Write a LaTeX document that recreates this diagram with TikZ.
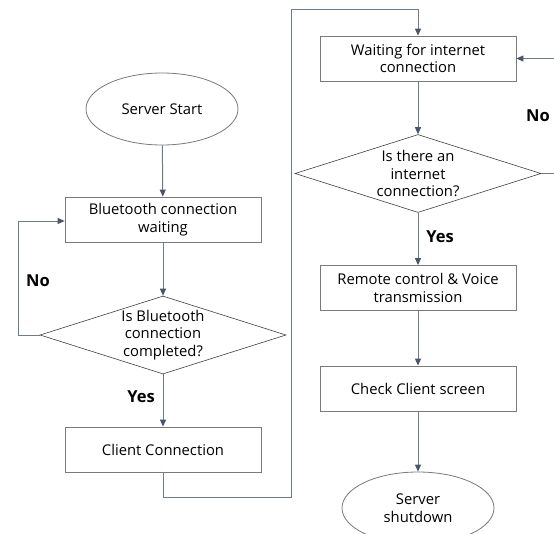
\documentclass[tikz,border=0pt]{standalone}
\usepackage{fontspec}
\setmainfont{Open Sans}
\usetikzlibrary{shapes.geometric,arrows.meta}
\definecolor{edgec}{HTML}{6E7B8E}
\definecolor{tipc}{HTML}{4A5568}
\definecolor{boxc}{HTML}{7A7A7A}
\tikzset{
  x=1pt,y=-1pt,
  every node/.style={font=\fontsize{14.8}{17.5}\selectfont, text=black},
  procbox/.style={draw=boxc, line width=0.8pt, rectangle, minimum width=196pt, minimum height=45pt, align=center, inner sep=0pt},
  decis/.style={draw=black!75, line width=0.6pt, diamond, aspect=3.15, minimum width=246pt, minimum height=78pt, align=center, inner sep=0pt},
  term/.style={draw=boxc, line width=0.8pt, ellipse, minimum width=152pt, minimum height=72pt, align=center, inner sep=0pt},
  conn/.style={draw=edgec, line width=1pt, -{Triangle[length=7pt,width=6pt,color=tipc]}},
  lab/.style={font=\fontsize{16.5}{18}\selectfont\bfseries}
}
\begin{document}
\begin{tikzpicture}
\useasboundingbox (0,0) rectangle (554,533);
\clip (0,0) rectangle (554,533);
\fill[white] (0,0) rectangle (554,533);
% left column
\node[term] (start) at (162,109) {Server Start};
\node[procbox] (btw) at (163,219.5) {Bluetooth connection\\waiting};
\node[decis] (btq) at (163,335) {Is Bluetooth\\connection\\completed?};
\node[procbox] (cc) at (163,449.5) {Client Connection};
% right column
\node[procbox] (iw) at (418,58.5) {Waiting for internet\\connection};
\node[decis] (iq) at (418,173.5) {Is there an\\internet\\connection?};
\node[procbox] (rc) at (418,288) {Remote control \& Voice\\transmission};
\node[procbox] (ck) at (418,388.5) {Check Client screen};
\node[term] (sd) at (418,508) {Server\\shutdown};
% coordinates
\coordinate (bl1) at (18,335);
\coordinate (bl2) at (18,221);
\coordinate (j1) at (163,497);
\coordinate (j2) at (291,497);
\coordinate (j3) at (291,9);
\coordinate (j4) at (418,9);
\coordinate (r1) at (560,173.5);
\coordinate (r2) at (560,58.5);
% connectors
\draw[conn] (start) -- (btw);
\draw[conn] (btw) -- (btq);
\draw[conn] (btq) -- (cc);
\draw[conn] (btq.west) -- (bl1) -- (bl2) -- (btw.west |- bl2);
\draw[conn] (cc) -- (j1) -- (j2) -- (j3) -- (j4) -- (iw);
\draw[conn] (iw) -- (iq);
\draw[conn] (iq) -- (rc);
\draw[conn] (iq.east) -- (r1) -- (r2) -- (iw);
\draw[conn] (rc) -- (ck);
\draw[conn] (ck) -- (sd);
% labels
\node[lab] (no1) at (38,281) {No};
\node[lab] (yes1) at (141,397) {Yes};
\node[lab] (no2) at (538,116) {No};
\node[lab] (yes2) at (440,237) {Yes};
\end{tikzpicture}
\end{document}
